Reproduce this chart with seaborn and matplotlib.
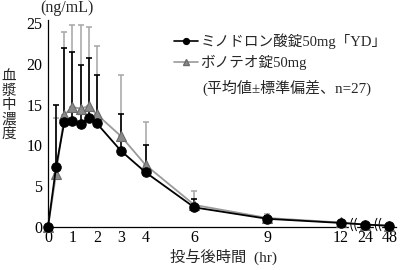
import numpy as np
import pandas as pd
import matplotlib
matplotlib.use("Agg")
import matplotlib.pyplot as plt
from matplotlib.lines import Line2D
import seaborn as sns

# ---- data ----
time_h = [0, 1/3, 2/3, 1, 4/3, 5/3, 2, 3, 4, 6, 9, 12, 24, 48]
minodronate_mean = [0, 7.4, 12.8, 13.0, 12.6, 13.4, 12.7, 9.3, 6.7, 2.4, 1.0, 0.5, 0.3, 0.15]
minodronate_sd = [0, 7.6, 9.1, 8.4, 7.2, 7.3, 5.9, 4.5, 3.3, 1.0, 0.3, 0.15, 0.1, 0.05]
bonoteo_mean = [0, 6.5, 13.7, 14.7, 14.5, 14.8, 13.8, 11.1, 7.6, 2.7, 1.1, 0.55, 0.3, 0.15]
bonoteo_sd = [0, 6.8, 10.2, 10.1, 10.3, 9.7, 8.4, 7.5, 5.2, 1.7, 0.5, 0.25, 0.15, 0.1]
series_names = ["ミノドロン酸錠50mg「YD」", "ボノテオ錠50mg"]
note_text = "(平均値±標準偏差、n=27)"
y_label_chars = ["血", "漿", "中", "濃", "度"]
x_label = "投与後時間  (hr)"
y_unit = "(ng/mL)"
x_tick_values = [0, 1, 2, 3, 4, 6, 9, 12, 24, 48]
y_ticks = [0, 5, 10, 15, 20, 25]
broken_after = 12          # linear axis up to 12 h, then one slot per later time
late_times = [24, 48]

def to_pos(t):
    return t if t <= broken_after else broken_after + 1 + late_times.index(t)

pos = [to_pos(t) for t in time_h]
df = pd.DataFrame({"pos": pos, "mino": minodronate_mean, "mino_sd": minodronate_sd,
                   "bono": bonoteo_mean, "bono_sd": bonoteo_sd})

sns.set_style("white")
plt.rcParams["font.family"] = ["Liberation Serif", "Noto Sans CJK JP"]

fig = plt.figure(figsize=(4.0, 2.7), dpi=100)
ax = fig.add_axes([0.12, 0.1593, 0.87, 0.765])

gray_line = "#9a9a9a"
gray_err = "#ababab"
tri_face = "#8a8a8a"
tri_edge = "#6a6a6a"

zeros = np.zeros(len(pos))
ax.errorbar(df["pos"], df["bono"], yerr=[zeros, df["bono_sd"]], fmt="none",
            ecolor=gray_err, elinewidth=1.2, capsize=2.2, capthick=1.2, zorder=2)
ax.errorbar(df["pos"], df["mino"], yerr=[zeros, df["mino_sd"]], fmt="none",
            ecolor="black", elinewidth=1.2, capsize=2.2, capthick=1.2, zorder=3)

sns.lineplot(data=df, x="pos", y="bono", ax=ax, color=gray_line, lw=1.3,
             marker="^", markersize=7.5, markerfacecolor=tri_face,
             markeredgecolor=tri_edge, markeredgewidth=0.8, zorder=4, clip_on=False)
sns.lineplot(data=df, x="pos", y="mino", ax=ax, color="black", lw=1.3,
             marker="o", markersize=6.8, markerfacecolor="black",
             markeredgecolor="black", zorder=5, clip_on=False)

ax.set_xlim(0, 14.27)
ax.set_ylim(0, 25.3)
ax.set_xticks([to_pos(t) for t in x_tick_values])
ax.set_xticklabels([str(t) for t in x_tick_values])
ax.set_yticks(y_ticks)
ax.set_yticklabels([str(v) for v in y_ticks])
ax.tick_params(axis="both", direction="in", length=3.5, width=0.9,
               labelsize=11.5, colors="black")
ax.tick_params(axis="x", pad=2)
ax.tick_params(axis="y", pad=4)
for s in ["top", "right"]:
    ax.spines[s].set_visible(False)
for s in ["left", "bottom"]:
    ax.spines[s].set_color("black")
    ax.spines[s].set_linewidth(0.9)
ax.set_xlabel("")
ax.set_ylabel("")

# axis-break marks between 12|24 and 24|48
trans = ax.get_xaxis_transform()
t = np.linspace(-1, 1, 20)
for k in range(len(late_times)):
    xb = broken_after + k + 0.5
    ax.plot([xb - 0.1, xb + 0.1], [0, 0], color="white", lw=2.5,
            transform=trans, clip_on=False, zorder=3.5)
    for dx in (-0.08, 0.08):
        ax.plot(xb + dx + 0.07 * t ** 2, 0.012 + 0.03 * t, color="black", lw=0.7,
                transform=trans, clip_on=False, zorder=3.6)

# labels
fig.text(67 / 400, 1 - 8 / 270, y_unit, ha="center", va="center", fontsize=11.5)
for i, ch in enumerate(y_label_chars):
    fig.text(9 / 400, 1 - (77 + 14.2 * i) / 270, ch, ha="center", va="center",
             fontsize=10.5)
fig.text(223 / 400, 1 - 257 / 270, x_label, ha="center", va="center", fontsize=11)

# legend
handles = [
    Line2D([], [], color="black", lw=1.2, marker="o", markersize=4.2,
           markerfacecolor="black", markeredgecolor="black"),
    Line2D([], [], color=gray_line, lw=1.2, marker="^", markersize=4.2,
           markerfacecolor=tri_face, markeredgecolor=tri_edge),
]
leg = fig.legend(handles, series_names, loc="upper left",
                 bbox_to_anchor=(174 / 400, 1 - 33 / 270), frameon=False,
                 fontsize=10.5, handlelength=1.65, handletextpad=0.15,
                 labelspacing=0.4, borderpad=0, borderaxespad=0)
fig.text(202 / 400, 1 - 88 / 270, note_text, ha="left", va="center", fontsize=10.8)

fig.savefig("out.png", dpi=100)
